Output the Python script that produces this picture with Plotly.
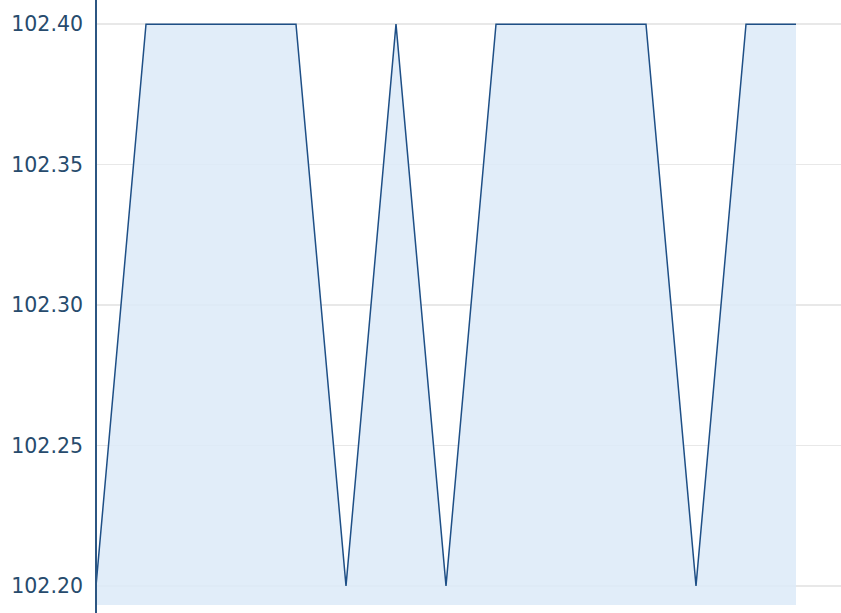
import plotly.graph_objects as go

x_index = list(range(15))
values = [102.20, 102.40, 102.40, 102.40, 102.40, 102.20, 102.40, 102.20,
          102.40, 102.40, 102.40, 102.40, 102.20, 102.40, 102.40]
y_ticks = [102.20, 102.25, 102.30, 102.35, 102.40]
y_tick_labels = ["102.20", "102.25", "102.30", "102.35", "102.40"]

fig = go.Figure()
fig.add_trace(go.Scatter(
    x=x_index, y=values, mode="lines",
    line=dict(color="#1e4f86", width=1.5),
    fill="tozeroy", fillcolor="rgba(220,234,248,0.85)",
    hoverinfo="skip",
))

fig.update_layout(
    width=841, height=613,
    margin=dict(l=96, r=0, t=0, b=8),
    plot_bgcolor="white", paper_bgcolor="white",
    showlegend=False,
    font=dict(family="DejaVu Sans", size=20.5, color="#274b6d"),
)
fig.update_xaxes(range=[0, 14.9], visible=False, showgrid=False, zeroline=False)
fig.update_yaxes(
    range=[102.1932, 102.4086],
    tickvals=y_ticks, ticktext=y_tick_labels,
    showgrid=True, gridcolor="#e8e8e8", gridwidth=1.5,
    zeroline=False, showline=False, ticks="",
    ticklabelstandoff=12,
)
fig.add_shape(type="line", xref="paper", yref="paper",
              x0=0, x1=0, y0=-8 / 605, y1=1,
              line=dict(color="#2c5682", width=2))
fig.write_html("out.html",
               config={"displayModeBar": False, "staticPlot": True},
               post_script="document.body.style.margin='0';document.body.style.overflow='hidden';")
